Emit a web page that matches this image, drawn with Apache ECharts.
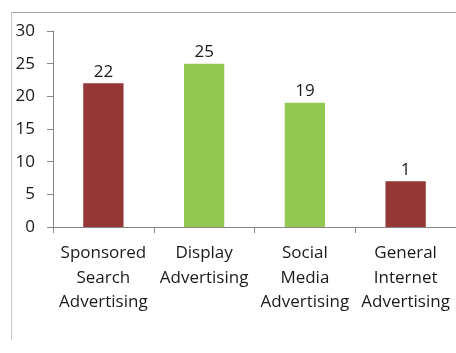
<!DOCTYPE html>
<html>
<head>
<meta charset="utf-8">
<script src="https://cdn.jsdelivr.net/npm/echarts@6/dist/echarts.min.js"></script>
<style>html,body{margin:0;padding:0;background:#fff}#c{width:456px;height:353px}</style>
</head>
<body>
<div id="c"></div>
<script>
const categories = ['Sponsored\nSearch\nAdvertising', 'Display\nAdvertising', 'Social\nMedia\nAdvertising', 'General\nInternet\nAdvertising'];
const values = [22, 25, 19, 7];
const labelTexts = ['22', '25', '19', '1'];
const barColors = ['#953735', '#92C850', '#92C850', '#953735'];
const yTicks = [0, 5, 10, 15, 20, 25, 30];

const FONT = 'Open Sans';
const chart = echarts.init(document.getElementById('c'), null, {renderer: 'canvas'});
chart.setOption({
  animation: false,
  backgroundColor: '#fff',
  graphic: [
    {type: 'line', shape: {x1: 11.5, y1: 12.5, x2: 456, y2: 12.5}, style: {stroke: '#a6a6a6', lineWidth: 1}},
    {type: 'line', shape: {x1: 11.5, y1: 12.5, x2: 11.5, y2: 340}, style: {stroke: '#c8c8c8', lineWidth: 1}}
  ],
  grid: {left: 53, right: -8, top: 31, bottom: 126},
  xAxis: {
    type: 'category',
    data: categories,
    boundaryGap: true,
    axisLine: {lineStyle: {color: '#868686', width: 1}},
    axisTick: {show: true, length: 6, alignWithLabel: false, lineStyle: {color: '#868686'}},
    axisLabel: {color: '#1a1a1a', fontFamily: FONT, fontSize: 17, lineHeight: 24.5, margin: 14, interval: 0}
  },
  yAxis: {
    type: 'value',
    min: yTicks[0],
    max: yTicks[yTicks.length - 1],
    interval: 5,
    axisLine: {show: true, lineStyle: {color: '#868686', width: 1}},
    axisTick: {show: true, length: 6, lineStyle: {color: '#868686'}},
    splitLine: {show: false},
    axisLabel: {color: '#1a1a1a', fontFamily: FONT, fontSize: 17, margin: 18}
  },
  series: [{
    type: 'bar',
    barWidth: '40%',
    data: values.map((v, i) => ({value: v, itemStyle: {color: barColors[i]}})),
    label: {
      show: true,
      position: 'top',
      distance: 3,
      color: '#1a1a1a',
      fontFamily: FONT,
      fontSize: 17,
      formatter: p => labelTexts[p.dataIndex]
    }
  }]
});
</script>
</body>
</html>
